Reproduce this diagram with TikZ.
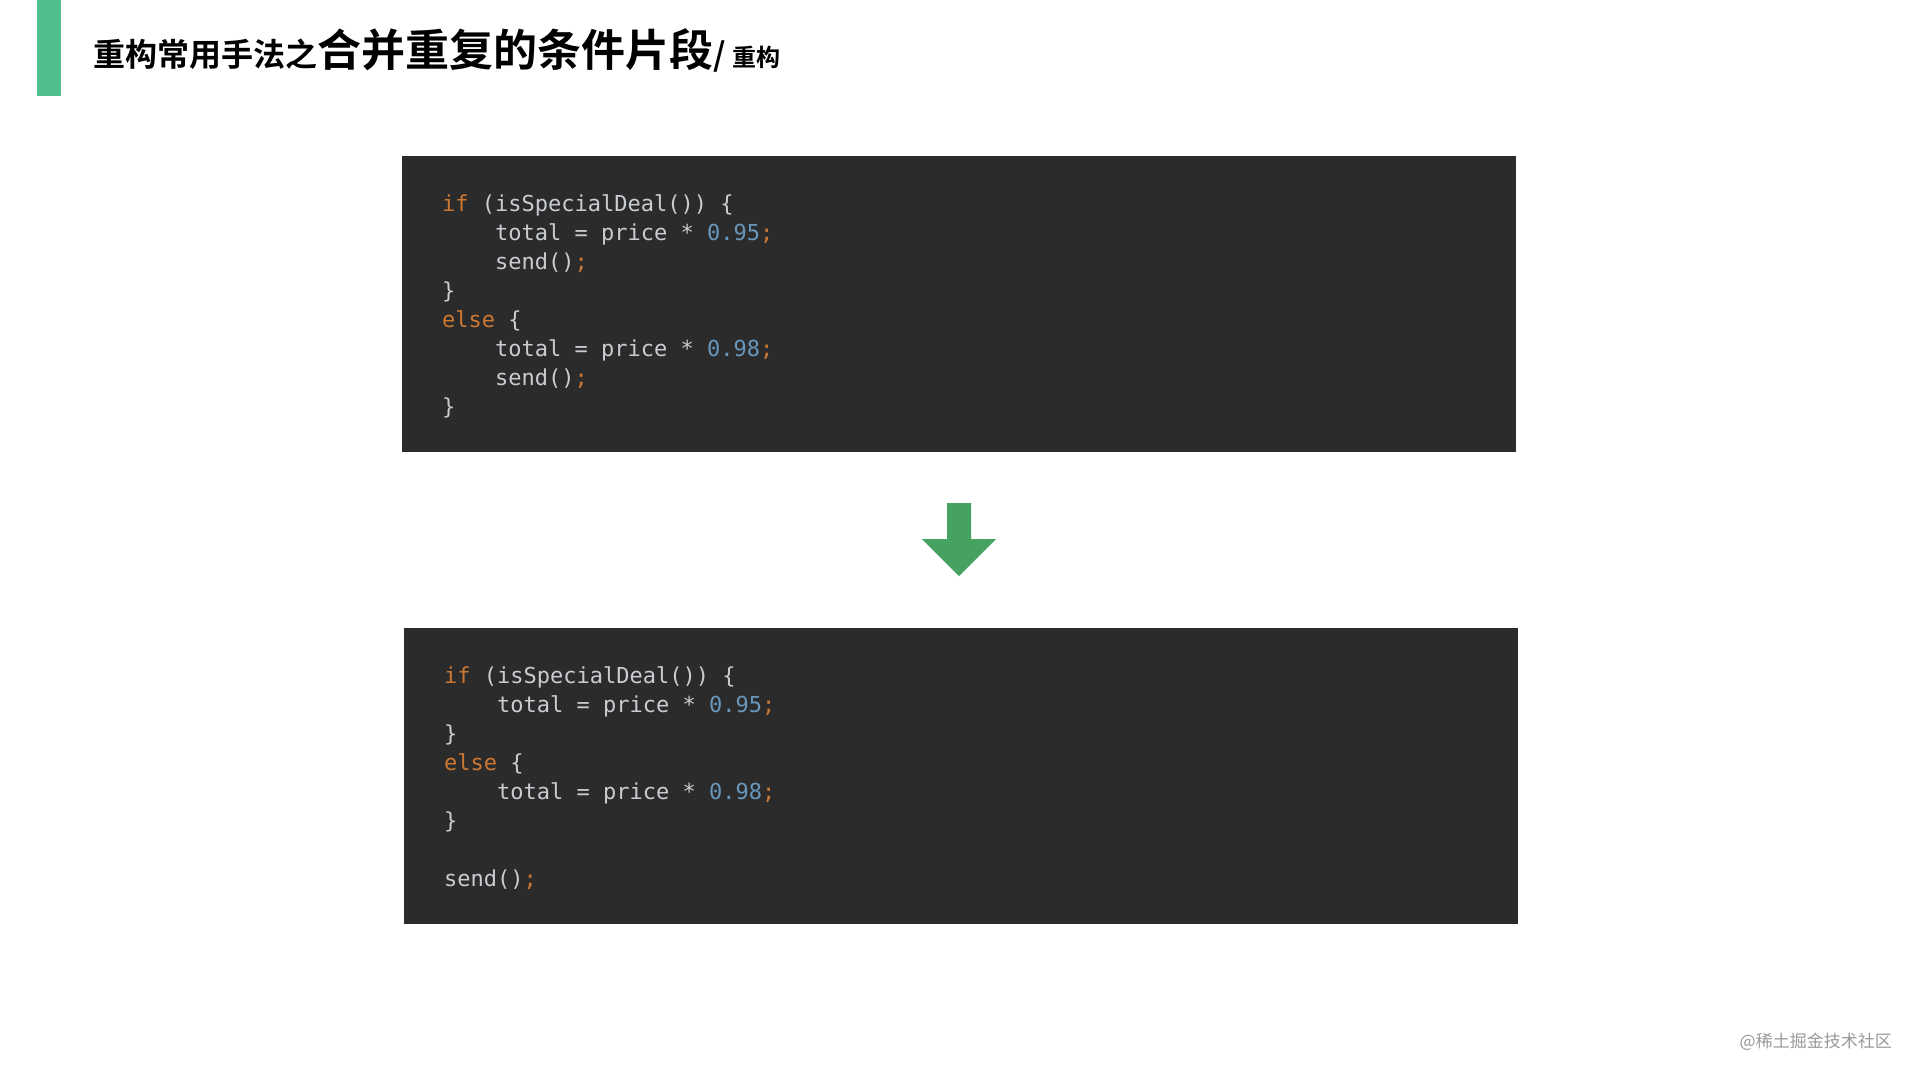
\documentclass[tikz,border=0pt]{standalone}
\usepackage{fontspec}
\setmonofont{DejaVu Sans Mono}
\newfontfamily\cjk{Noto Sans CJK SC}
\newfontfamily\cjkb{Noto Sans CJK SC Bold}
\definecolor{codebg}{HTML}{2B2B2B}
\definecolor{kw}{HTML}{CC7832}
\definecolor{num}{HTML}{6897BB}
\definecolor{txt}{HTML}{C9CDD2}
\definecolor{barg}{HTML}{4FC08D}
\definecolor{arrg}{HTML}{45A35F}
\newcommand{\K}[1]{\textcolor{kw}{#1}}
\newcommand{\N}[1]{\textcolor{num}{#1}}
\begin{document}
\begin{tikzpicture}[x=1pt,y=-1pt,
  codeline/.style={anchor=base west,inner sep=0pt,font=\ttfamily\fontsize{22}{22}\selectfont,text=txt},
  codebox/.style={fill=codebg}]
\useasboundingbox (0,0) rectangle (1920,1080);
\fill[white] (0,0) rectangle (1920,1080);
\fill[barg] (37,0) rectangle (61,96);
\node[anchor=base west,inner sep=0pt] (title) at (93,66)
  {\cjkb\fontsize{32}{32}\selectfont 重构常用手法之\fontsize{44}{44}\selectfont 合并重复的条件片段\fontsize{32}{32}\selectfont/ \fontsize{24}{24}\selectfont 重构};
\fill[codebox] (402,156) rectangle (1516,452);
\fill[codebox] (404,628) rectangle (1518,924);
% code 1
\node[codeline] (a1) at (442,211) {\K{if} (isSpecialDeal()) \{};
\node[codeline] (a2) at (442,240) {\ \ \ \ total = price * \N{0.95}\K{;}};
\node[codeline] (a3) at (442,269) {\ \ \ \ send()\K{;}};
\node[codeline] (a4) at (442,298) {\}};
\node[codeline] (a5) at (442,327) {\K{else} \{};
\node[codeline] (a6) at (442,356) {\ \ \ \ total = price * \N{0.98}\K{;}};
\node[codeline] (a7) at (442,385) {\ \ \ \ send()\K{;}};
\node[codeline] (a8) at (442,414) {\}};
% code 2
\node[codeline] (b1) at (444,683) {\K{if} (isSpecialDeal()) \{};
\node[codeline] (b2) at (444,712) {\ \ \ \ total = price * \N{0.95}\K{;}};
\node[codeline] (b3) at (444,741) {\}};
\node[codeline] (b4) at (444,770) {\K{else} \{};
\node[codeline] (b5) at (444,799) {\ \ \ \ total = price * \N{0.98}\K{;}};
\node[codeline] (b6) at (444,828) {\}};
\node[codeline] (b7) at (444,886) {send()\K{;}};
% arrow
\fill[arrg] (947,503) -- (971,503) -- (971,539) -- (996,539) -- (959,576) -- (922,539) -- (947,539) -- cycle;
\node[anchor=base east,inner sep=0pt,text=black!40] (wm) at (1892,1047) {\cjk\fontsize{17}{17}\selectfont @稀土掘金技术社区};
\end{tikzpicture}
\end{document}
